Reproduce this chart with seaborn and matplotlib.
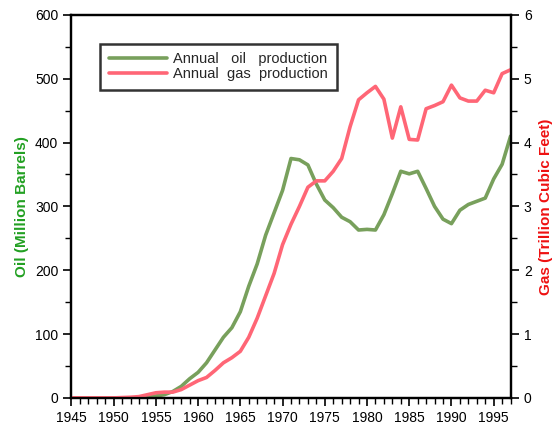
import numpy as np
import pandas as pd
import matplotlib
matplotlib.use("Agg")
import matplotlib.pyplot as plt
from matplotlib.ticker import MultipleLocator
from matplotlib.lines import Line2D
import seaborn as sns

# data
years = list(range(1945, 1998))
oil = [0, 0, 0, 0, 0, 0, 0, 0, 0, 2, 3, 5, 10, 18, 30, 40, 55, 75, 95, 110,
       135, 175, 210, 255, 290, 325, 375, 373, 365, 335, 310, 298, 283, 276,
       263, 264, 263, 287, 320, 355, 351, 355, 328, 300, 280, 273, 294, 303,
       308, 313, 343, 366, 410]
gas = [0, 0, 0, 0, 0, 0, 0.005, 0.01, 0.02, 0.05, 0.08, 0.09, 0.09, 0.13,
       0.2, 0.27, 0.32, 0.43, 0.55, 0.63, 0.73, 0.95, 1.25, 1.6, 1.95, 2.4,
       2.72, 3.0, 3.3, 3.4, 3.4, 3.55, 3.75, 4.25, 4.67, 4.78, 4.88, 4.68,
       4.07, 4.56, 4.05, 4.04, 4.53, 4.58, 4.64, 4.9, 4.7, 4.65, 4.65, 4.82,
       4.78, 5.08, 5.14]

df = pd.DataFrame({"year": years, "oil": oil, "gas": gas})

sns.set_style("ticks")
plt.rcParams["font.family"] = ["Liberation Sans", "DejaVu Sans"]

oil_color = "#78a05c"
gas_color = "#ff6676"

fig = plt.figure(figsize=(5.58, 4.26), dpi=100)
ax = fig.add_axes([0.128, 0.066, 0.787, 0.899])
ax2 = ax.twinx()

sns.lineplot(data=df, x="year", y="oil", ax=ax, color=oil_color, linewidth=2.6)
sns.lineplot(data=df, x="year", y="gas", ax=ax2, color=gas_color, linewidth=2.6)

ax.set_xlim(1945, 1997)
ax.set_ylim(0, 600)
ax2.set_ylim(0, 6)

ax.xaxis.set_major_locator(MultipleLocator(5))
ax.xaxis.set_minor_locator(MultipleLocator(1))
ax.yaxis.set_major_locator(MultipleLocator(100))
ax.yaxis.set_minor_locator(MultipleLocator(50))
ax2.yaxis.set_major_locator(MultipleLocator(1))
ax2.yaxis.set_minor_locator(MultipleLocator(0.5))

for a in (ax, ax2):
    a.tick_params(which="major", length=6, width=1.2, labelsize=10, direction="out",
                  color="black", labelcolor="black")
    a.tick_params(which="minor", length=4, width=1.0, direction="out", color="black")
    for s in a.spines.values():
        s.set_visible(True)
        s.set_linewidth(1.6)
        s.set_color("black")

ax.set_xlabel("")
ax.set_ylabel("Oil (Million Barrels)", color="#22a022", fontsize=11, fontweight="bold", labelpad=4)
ax2.set_ylabel("Gas (Trillion Cubic Feet)", color="#ee1111", fontsize=11, fontweight="bold", labelpad=5)

handles = [Line2D([], [], color=oil_color, linewidth=2.6),
           Line2D([], [], color=gas_color, linewidth=2.6)]
leg = ax.legend(handles, ["Annual   oil   production", "Annual  gas  production"],
                loc="upper left", bbox_to_anchor=(0.066, 0.925), frameon=True,
                fancybox=False, fontsize=10.5, handlelength=4.0, handletextpad=0.4,
                borderpad=0.6, labelspacing=0.05, borderaxespad=0)
leg.get_frame().set_edgecolor("black")
leg.get_frame().set_linewidth(1.8)

fig.savefig("out.png", dpi=100)
